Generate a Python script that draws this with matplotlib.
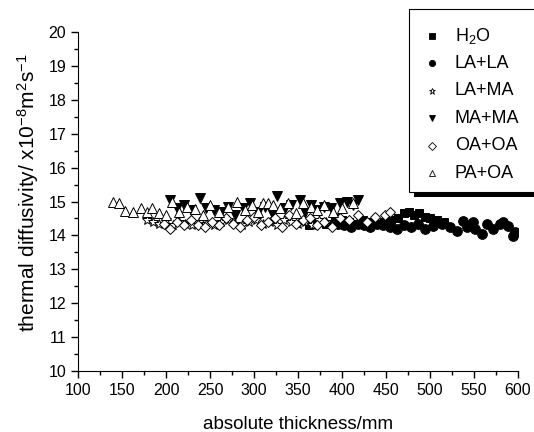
import matplotlib
matplotlib.use("Agg")
import matplotlib.pyplot as plt
from matplotlib.lines import Line2D
from matplotlib.patches import Rectangle

plt.rcParams['font.family'] = ['Liberation Sans', 'DejaVu Sans']
plt.rcParams['mathtext.fontset'] = 'custom'
plt.rcParams['mathtext.rm'] = 'Liberation Sans'
plt.rcParams['mathtext.it'] = 'Liberation Sans'

# data
h2o_x = [362, 372, 382, 392, 400, 408, 416, 424, 432, 440, 448, 456, 464, 470, 476, 482, 488, 494, 500, 508, 516]
h2o_y = [14.3, 14.4, 14.35, 14.5, 14.45, 14.4, 14.35, 14.45, 14.4, 14.35, 14.4, 14.45, 14.5, 14.65, 14.7, 14.6, 14.65, 14.55, 14.5, 14.45, 14.4]

lala_x = [395, 402, 410, 418, 425, 432, 440, 447, 455, 462, 470, 478, 486, 494, 503, 514, 523, 531, 538, 542,
          549, 551, 559, 565, 572, 580, 583, 589, 594, 597]
lala_y = [14.35, 14.3, 14.25, 14.35, 14.3, 14.25, 14.35, 14.3, 14.25, 14.2, 14.3, 14.25, 14.35, 14.2, 14.28, 14.34,
          14.25, 14.13, 14.43, 14.25, 14.4, 14.19, 14.04, 14.34, 14.2, 14.34, 14.4, 14.28, 13.98, 14.1]

lama_x = [178, 185, 192, 200, 208, 215, 222, 230, 238, 246, 255, 262, 270, 278, 286, 294, 302, 310, 318, 326,
          334, 342, 350, 358, 366, 374, 382]
lama_y = [14.45, 14.4, 14.35, 14.45, 14.3, 14.4, 14.35, 14.3, 14.4, 14.35, 14.3, 14.4, 14.45, 14.35, 14.3, 14.4,
          14.45, 14.35, 14.4, 14.3, 14.45, 14.4, 14.35, 14.4, 14.3, 14.45, 14.4]

mama_x = [205, 212, 220, 228, 239, 246, 255, 262, 270, 278, 288, 296, 305, 312, 320, 326, 335, 342, 352, 358,
          365, 372, 380, 388, 398, 406, 412, 418]
mama_y = [15.05, 14.8, 14.9, 14.75, 15.1, 14.8, 14.75, 14.7, 14.85, 14.6, 14.8, 14.95, 14.7, 14.85, 14.65, 15.15,
          14.8, 14.9, 15.05, 14.7, 14.9, 14.75, 14.85, 14.8, 14.95, 15.0, 14.9, 15.05]

oaoa_x = [198, 205, 212, 220, 228, 236, 244, 252, 260, 268, 276, 284, 292, 300, 308, 316, 324, 332, 340, 348,
          356, 364, 372, 380, 389, 398, 408, 418, 428, 438, 449, 455]
oaoa_y = [14.35, 14.2, 14.4, 14.3, 14.45, 14.3, 14.25, 14.4, 14.3, 14.5, 14.35, 14.25, 14.45, 14.55, 14.3, 14.4,
          14.5, 14.25, 14.6, 14.35, 14.45, 14.5, 14.3, 14.4, 14.25, 14.5, 14.45, 14.6, 14.4, 14.55, 14.6, 14.7]

paoa_x = [140, 147, 153, 162, 172, 178, 184, 192, 200, 207, 215, 224, 233, 242, 250, 260, 270, 281, 290, 298,
          305, 310, 316, 322, 330, 339, 348, 356, 365, 372, 380, 390, 400, 412]
paoa_y = [15.0, 14.95, 14.72, 14.7, 14.8, 14.68, 14.8, 14.65, 14.6, 14.98, 14.7, 14.85, 14.78, 14.6, 14.9, 14.7,
          14.85, 15.0, 14.75, 14.9, 14.7, 14.95, 14.96, 14.9, 14.8, 14.97, 14.65, 14.95, 14.85, 14.75, 14.9, 14.7,
          14.8, 14.95]

labels = ['H$_2$O', 'LA+LA', 'LA+MA', 'MA+MA', 'OA+OA', 'PA+OA']
markers = ['s', 'o', '*', 'v', 'D', '^']
filled = [True, True, False, True, False, False]
sizes = [6, 7, 7, 7, 5.5, 7]
xs = [h2o_x, lala_x, lama_x, mama_x, oaoa_x, paoa_x]
ys = [h2o_y, lala_y, lama_y, mama_y, oaoa_y, paoa_y]

fig = plt.figure(figsize=(5.34, 4.32), dpi=100)
ax = fig.add_axes([78/534, 1-371/432, 440/534, 339/432])

for x, y, m, f, s in zip(xs, ys, markers, filled, sizes):
    ax.plot(x, y, linestyle='none', marker=m, markersize=s,
            markerfacecolor='black' if f else 'white', markeredgecolor='black', markeredgewidth=0.7)

ax.set_xlim(100, 600)
ax.set_ylim(10, 20)
ax.set_xticks(range(100, 601, 50))
ax.set_xticks(range(125, 600, 50), minor=True)
ax.set_yticks(range(10, 21))
ax.set_yticks([v + 0.5 for v in range(10, 20)], minor=True)
ax.spines['top'].set_visible(False)
ax.spines['right'].set_visible(False)
ax.tick_params(direction='out', length=5, width=1, labelsize=11.5)
ax.tick_params(which='minor', direction='out', length=3, width=1)
ax.set_xlabel('absolute thickness/mm', fontsize=13.5, labelpad=13)
ax.set_ylabel('thermal diffusivity/ x10$^{-8}$m$^{2}$s$^{-1}$', fontsize=15)
ax.yaxis.set_label_coords(-0.084, 0.525)

# legend box with shadow, running off the right edge
fig.add_artist(Rectangle((414/534, 1-197/432), 200/534, 186/432, transform=fig.transFigure,
                         facecolor='black', edgecolor='none', zorder=5))
fig.add_artist(Rectangle((409/534, 1-192/432), 200/534, 183/432, transform=fig.transFigure,
                         facecolor='white', edgecolor='black', linewidth=0.8, zorder=6))
for i, (lab, m, f) in enumerate(zip(labels, markers, filled)):
    yy = 1 - (36 + 27.4*i)/432
    fig.add_artist(Line2D([432/534], [yy], transform=fig.transFigure, marker=m, markersize=4.5,
                          markerfacecolor='black' if f else 'white', markeredgecolor='black',
                          markeredgewidth=0.6, zorder=7))
    fig.text(455/534, yy, lab, fontsize=13, va='center', ha='left', zorder=7)

fig.savefig('out.png', dpi=100)
